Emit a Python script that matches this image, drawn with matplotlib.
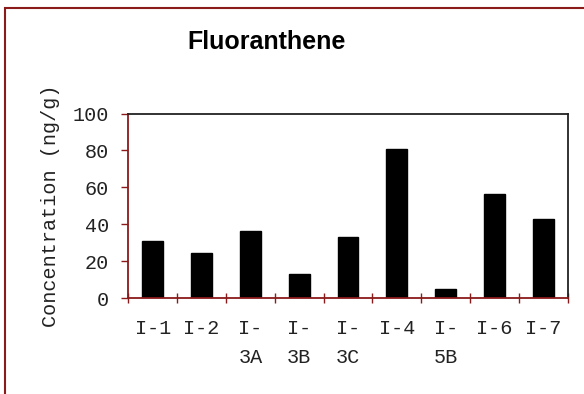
import numpy as np
import matplotlib
matplotlib.use("Agg")
import matplotlib.pyplot as plt
from matplotlib.patches import Rectangle

# samples and fluoranthene concentrations (ng/g)
samples = ["I-1", "I-2", "I-\n3A", "I-\n3B", "I-\n3C", "I-4", "I-\n5B", "I-6", "I-7"]
conc = [31.2, 24.7, 36.2, 13.1, 33.3, 80.8, 5.2, 56.3, 42.7]
yticks = [0, 20, 40, 60, 80, 100]

red = "#8B1A1A"
mono = "Liberation Mono"
fs = 14.5

fig = plt.figure(figsize=(5.84, 3.94), dpi=100)
ax = fig.add_axes([128.3 / 584, 1 - 298.3 / 394, 439.4 / 584, 184.8 / 394])

x = np.arange(len(samples))
ax.bar(x, conc, width=0.43, color="black", edgecolor="black")

ax.set_xlim(-0.5, len(samples) - 0.5)
ax.set_ylim(0, 100)
ax.set_yticks(yticks)
ax.set_yticklabels([str(v) for v in yticks], family=mono, fontsize=fs, color="#222222")
ax.set_xticks(x)
ax.set_xticklabels(samples, family=mono, fontsize=fs, linespacing=1.65, va="top",
                   color="#222222")
ax.set_xticks(np.arange(-0.5, len(samples), 1), minor=True)

ax.tick_params(axis="x", which="major", length=0, pad=15)
ax.tick_params(axis="x", which="minor", length=7, direction="inout", color=red, width=1)
ax.tick_params(axis="y", length=5, direction="out", color=red, width=1, pad=9)

for s in ["left", "bottom"]:
    ax.spines[s].set_color(red)
    ax.spines[s].set_linewidth(1.3)
for s in ["top", "right"]:
    ax.spines[s].set_color("#222222")
    ax.spines[s].set_linewidth(1.3)

ax.set_ylabel("Concentration (ng/g)", family=mono, fontsize=fs, labelpad=9,
              color="#222222")

fig.text(267 / 584, 1 - 42 / 394, "Fluoranthene", ha="center", va="center",
         family="Liberation Sans", fontweight="bold", fontsize=18)

# chart border
fig.patches.append(Rectangle((5 / 584, -0.2), 1.2, 1 - 8 / 394 + 0.2,
                             transform=fig.transFigure, fill=False,
                             edgecolor=red, linewidth=1.5))

fig.savefig("out.png", dpi=100)
